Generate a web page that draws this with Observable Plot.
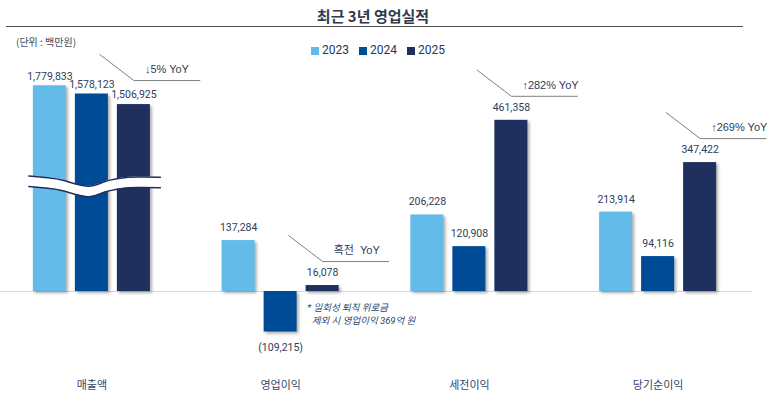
<!DOCTYPE html>
<html><head><meta charset="utf-8">
<script src="https://cdn.jsdelivr.net/npm/d3@7"></script>
<script src="https://cdn.jsdelivr.net/npm/@observablehq/plot@0.6"></script>
<style>
body{margin:0;background:#fff;font-family:Roboto,"Noto Sans CJK KR",sans-serif;}
#wrap{position:relative;width:768px;height:394px;overflow:hidden;background:#fff}
#head{position:relative;height:28px}
#title{position:absolute;left:0;width:746px;top:6px;line-height:20px;text-align:center;font-family:"Noto Sans CJK KR",sans-serif;font-weight:700;font-size:15px;color:#2f3a4d}
#rule{position:absolute;left:6px;top:26px;width:737px;height:0;border-top:1.6px solid #4f4f4f}
#unit{position:absolute;z-index:3;left:16px;top:35px;line-height:14px;font-size:10px;color:#3b4a63;font-family:"Noto Sans CJK KR",sans-serif}
#legend{position:absolute;z-index:3;left:311px;top:44px;display:flex;gap:10px;line-height:13px;font-size:12px;color:#1f3864;font-family:Roboto,sans-serif}
#legend span.item{display:flex;align-items:center;gap:3px}
#legend i{display:inline-block;width:8px;height:8px}
#chart{position:absolute;z-index:1;left:0;top:28px}
</style></head>
<body>
<div id="wrap">
  <div id="head"><div id="title">최근 3년 영업실적</div><div id="rule"></div></div>
  <div id="chart"></div>
  <div id="unit">(단위 : 백만원)</div>
  <div id="legend"></div>
</div>
<script>
// ---- data ----
const categories = ["매출액", "영업이익", "세전이익", "당기순이익"];
const years = ["2023", "2024", "2025"];
const values2023 = [1779833, 137284, 206228, 213914];
const values2024 = [1578123, -109215, 120908, 94116];
const values2025 = [1506925, 16078, 461358, 347422];
const yoyLabels = ["↓5% YoY", "흑전  YoY", "↑282% YoY", "↑269% YoY"];
const noteText = "* 일회성 퇴직 위로금\n\u00a0\u00a0제외 시 영업이익 369억 원";
const colors = ["#63bbe9", "#004b95", "#1f305f"];

// ---- layout helpers ----
const series = [values2023, values2024, values2025];
const G = 4.494;          // group width in bar steps
const HW = 0.393;         // half bar width in bar steps
const K = 2695;           // value per pixel
const zeroPx = 263, topPx = 10, botPx = 326;
// broken axis for the revenue group
const brk = d3.scaleLinear()
  .domain([0, 480000, 1500000, 1600000, 1800000])
  .range([0, 480000, 501000, 541000, 556000]);

const rows = categories.flatMap((c, ci) => series.map((vals, yi) => ({
  cat: c, ci, year: years[yi], yi, value: vals[ci], pos: ci * G + yi - 1
})));
const fmt = v => v < 0 ? `(${d3.format(",")(-v)})` : d3.format(",")(v);

const callouts = categories.flatMap((c, ci) => {
  const p = ci * G + 1;
  const ey = brk(values2025[ci]) + 24 * K;
  return [
    {cat: c, x: p - 34 / 42, y: ey + 26 * K},
    {cat: c, x: p, y: ey},
    {cat: c, x: p + 66 / 42, y: ey}
  ];
});

// decorative break wave (revenue group), in group-relative units
const waveX = [-1.50, -1.05, -0.67, -0.11, 0.28, 0.68, 1.10, 1.63];
const waveY = [311300, 306500, 299100, 283800, 295000, 305300, 308500, 308000];
const wave = waveX.map((x, i) => ({x, y: waveY[i]}));
const waveT = 28300;

// ---- legend ----
d3.select("#legend").selectAll("span.item").data(years).join("span")
  .attr("class", "item")
  .html((d, i) => `<i style="background:${colors[i]}"></i>${d}`);

const plot = Plot.plot({
  width: 768,
  height: 366,
  marginTop: topPx,
  marginBottom: 366 - botPx,
  marginLeft: 0,
  marginRight: 16,
  style: {fontFamily: 'Roboto, "Liberation Sans", "Noto Sans CJK KR", sans-serif', fontSize: "10.5px", background: "white"},
  x: {domain: [-G / 2, 3.5 * G], range: [-3, 752], axis: null},
  y: {domain: [-(botPx - zeroPx) * K, (zeroPx - topPx) * K], axis: null},
  color: {domain: years, range: colors},
  marks: [
    Plot.ruleY([0], {stroke: "#d6d6d6", strokeWidth: 1}),
    Plot.rectY(rows, {x1: d => d.pos - HW, x2: d => d.pos + HW, y1: 0, y2: d => brk(d.value), fill: "year"}),
    Plot.areaY(wave, {x: "x", y1: d => d.y - waveT, y2: "y", fill: "white", curve: "natural"}),
    Plot.line(wave, {x: "x", y: "y", stroke: "#1f305f", strokeWidth: 1.6, curve: "natural"}),
    Plot.line(wave, {x: "x", y: d => d.y - waveT, stroke: "#1f305f", strokeWidth: 1.6, curve: "natural"}),
    Plot.text(rows.filter(d => d.ci === 0), {x: "pos", y: d => brk(d.value), text: d => fmt(d.value), dy: -9.5, fill: "#2e3d5a"}),
    Plot.text(rows.filter(d => d.ci > 0 && d.value >= 0), {x: "pos", y: "value", text: d => fmt(d.value), dy: -13, fill: "#2e3d5a"}),
    Plot.text(rows.filter(d => d.value < 0), {x: "pos", y: "value", text: d => fmt(d.value), dy: 15.5, fill: "#2e3d5a"}),
    Plot.line(callouts, {x: "x", y: "y", z: "cat", stroke: "#808080", strokeWidth: 1}),
    Plot.text(categories, {x: (d, i) => i * G + 1 + 11 / 42, y: (d, i) => brk(values2025[i]) + 24 * K, text: (d, i) => yoyLabels[i], textAnchor: "start", dy: -11, fontSize: 11, fill: "#2e3d5a", fontFamily: '"Liberation Sans", Roboto, "Noto Sans CJK KR", sans-serif'}),
    Plot.text([noteText], {x: G + 1 - 15.5 / 42, y: 0, text: d => d, textAnchor: "start", lineAnchor: "middle", dy: 22, fontSize: 9.5, fontStyle: "italic", lineHeight: 1.33, fill: "#2a4470"}),
    Plot.text(categories, {x: (d, i) => i * G, frameAnchor: "bottom", text: d => d, dy: 34, fontSize: 11, fill: "#34456a"})
  ]
});

const rg = plot.querySelector('g[aria-label="rect"]');
if (rg) rg.style.filter = "drop-shadow(2.5px 2px 1.4px rgba(0,0,0,0.32))";
document.getElementById("chart").appendChild(plot);
</script>
</body></html>
